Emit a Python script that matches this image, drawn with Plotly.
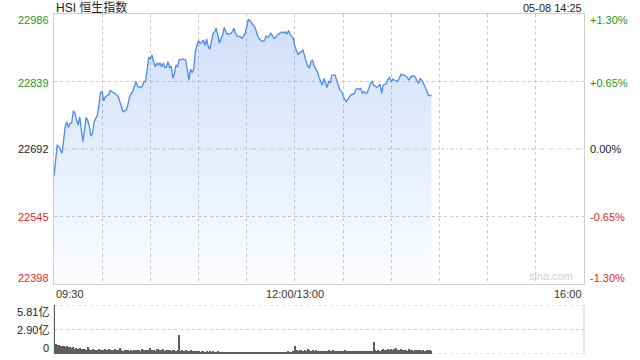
import plotly.graph_objects as go

# ---------------- data ----------------
title_text = "HSI 恒生指数"
stamp_text = "05-08 14:25"
prev_close = 22692
y_ticks = [22986, 22839, 22692, 22545, 22398]
pct_ticks = ["+1.30%", "+0.65%", "0.00%", "-0.65%", "-1.30%"]
x_tick_pos = [0, 150, 330]
x_tick_text = ["09:30", "12:00/13:00", "16:00"]
vol_ticks = [5.81, 2.90, 0]
vol_tick_text = ["5.81亿", "2.90亿", "0"]

# trading minutes since 09:30 (lunch break removed)
minutes = [0, 2, 3, 5, 6, 7, 8, 9, 10, 11, 12, 13, 14, 15, 16, 17, 18, 19, 20, 21,
           22, 23, 24, 25, 26, 27, 28, 29, 30, 31, 32, 34, 35, 37, 38, 40, 41, 42, 43, 45,
           46, 47, 49, 50, 51, 52, 54, 55, 56, 57, 58, 59, 60, 61, 62, 63, 64, 65, 66, 67,
           68, 69, 70, 71, 72, 73, 74, 75, 76, 77, 78, 79, 80, 82, 83, 84, 85, 86, 87, 88,
           89, 90, 91, 92, 93, 94, 95, 96, 97, 98, 99, 100, 101, 102, 103, 104, 105, 106, 107, 108,
           110, 111, 112, 113, 114, 116, 117, 118, 119, 120, 121, 122, 123, 124, 125, 126, 127, 128, 129, 130,
           131, 132, 133, 134, 135, 136, 137, 138, 139, 141, 142, 143, 144, 145, 146, 147, 148, 149, 150, 151,
           152, 153, 154, 155, 156, 157, 158, 159, 160, 161, 162, 163, 164, 165, 166, 167, 168, 169, 170, 171,
           172, 173, 174, 175, 176, 177, 178, 179, 180, 181, 182, 183, 184, 185, 186, 187, 188, 189, 190, 191,
           192, 193, 194, 195, 196, 197, 198, 199, 200, 201, 202, 203, 204, 205, 206, 207, 208, 209, 210, 211,
           212, 213, 214, 215, 216, 217, 218, 219, 220, 221, 222, 223, 224, 225, 226, 227, 228, 229, 230, 231,
           232, 233, 234, 235]
index_values = [22632, 22701, 22697, 22683, 22712, 22741, 22751, 22739, 22748, 22748, 22775, 22771, 22755, 22744, 22762, 22737, 22708, 22733, 22761, 22754,
                22742, 22720, 22726, 22751, 22759, 22766, 22788, 22815, 22817, 22797, 22806, 22810, 22819, 22815, 22813, 22806, 22792, 22784, 22773, 22777,
                22788, 22806, 22817, 22831, 22839, 22828, 22826, 22829, 22839, 22839, 22864, 22892, 22888, 22897, 22882, 22871, 22879, 22875, 22880, 22871,
                22879, 22870, 22870, 22882, 22868, 22873, 22846, 22857, 22875, 22871, 22887, 22886, 22888, 22886, 22864, 22842, 22866, 22858, 22866, 22904,
                22918, 22928, 22922, 22924, 22929, 22918, 22931, 22915, 22909, 22929, 22944, 22947, 22955, 22940, 22922, 22933, 22940, 22957, 22947, 22942,
                22944, 22947, 22955, 22944, 22938, 22937, 22933, 22938, 22944, 22958, 22974, 22972, 22966, 22962, 22958, 22945, 22937, 22931, 22928, 22926,
                22928, 22938, 22935, 22938, 22944, 22938, 22933, 22935, 22940, 22945, 22947, 22945, 22947, 22942, 22950, 22942, 22937, 22933, 22915, 22904,
                22897, 22902, 22904, 22908, 22893, 22882, 22873, 22868, 22882, 22886, 22873, 22866, 22860, 22849, 22839, 22831, 22846, 22836, 22826, 22839,
                22837, 22853, 22853, 22853, 22842, 22831, 22820, 22817, 22806, 22800, 22795, 22802, 22806, 22810, 22811, 22813, 22822, 22824, 22822, 22824,
                22813, 22817, 22813, 22815, 22824, 22835, 22839, 22831, 22829, 22826, 22829, 22833, 22813, 22831, 22833, 22835, 22844, 22848, 22839, 22844,
                22842, 22841, 22839, 22846, 22855, 22853, 22853, 22851, 22848, 22842, 22849, 22851, 22851, 22848, 22842, 22835, 22846, 22842, 22835, 22828,
                22820, 22810, 22808, 22809]

# per-minute turnover, in 亿
volumes = [5.81, 1.19, 1.10, 1.02, 0.95, 0.98, 0.90, 0.85, 0.92, 0.80,
           0.78, 0.70, 0.86, 0.65, 0.72, 0.60, 0.68, 0.55, 0.62, 0.58,
           0.50, 0.85, 0.55, 0.48, 0.62, 0.52, 0.45, 0.50, 0.58, 0.47,
           0.52, 0.44, 0.60, 0.48, 0.55, 0.42, 0.50, 0.46, 0.58, 0.44,
           0.52, 0.75, 0.48, 0.40, 0.46, 0.42, 0.50, 0.38, 0.44, 0.40,
           0.46, 0.42, 0.52, 0.48, 0.40, 0.55, 0.45, 0.50, 0.42, 0.48,
           0.75, 0.44, 0.52, 0.40, 0.58, 0.65, 0.46, 0.42, 0.55, 0.40,
           0.48, 0.44, 0.50, 0.38, 0.46, 0.42, 0.40, 0.45, 2.27, 0.40,
           0.48, 0.36, 0.44, 0.40, 0.34, 0.42, 0.38, 0.32, 0.36, 0.30,
           0.34, 0.28, 0.32, 0.36, 0.26, 0.30, 0.28, 0.32, 0.25, 0.30,
           0.27, 0.24, 0.30, 0.26, 0.22, 0.28, 0.25, 0.23, 0.27, 0.22,
           0.25, 0.20, 0.24, 0.22, 0.26, 0.21, 0.23, 0.20, 0.24, 0.22,
           0.26, 0.20, 0.23, 0.19, 0.22, 0.25, 0.20, 0.18, 0.22, 0.20,
           0.19, 0.23, 0.18, 0.21, 0.17, 0.20, 0.22, 0.18, 0.26, 0.20,
           0.22, 0.19, 0.24, 0.28, 0.21, 0.25, 0.30, 0.22, 0.28, 0.35,
           0.95, 0.45, 0.38, 0.50, 0.42, 0.36, 0.48, 0.40, 0.55, 0.44,
           0.38, 0.46, 0.35, 0.42, 0.30, 0.36, 0.40, 0.33, 0.38, 0.30,
           0.35, 0.42, 0.32, 0.38, 0.45, 0.34, 0.30, 0.36, 0.40, 0.33,
           0.38, 0.44, 0.35, 0.30, 0.36, 0.32, 0.38, 0.34, 0.30, 0.36,
           0.40, 0.33, 0.38, 0.30, 0.35, 0.32, 0.37, 0.34, 0.40, 1.47,
           0.45, 0.38, 0.52, 0.40, 0.48, 0.55, 0.42, 0.50, 0.58, 0.45,
           0.62, 0.48, 0.55, 0.75, 0.50, 0.46, 0.58, 0.44, 0.52, 0.48,
           0.40, 0.55, 0.45, 0.50, 0.38, 0.46, 0.52, 0.42, 0.48, 0.40,
           0.45, 0.38, 0.50, 0.42, 0.46, 0.40]
vol_minutes = list(range(len(volumes)))

# ---------------- styling ----------------
FONT = "Liberation Sans, Arial, Noto Sans CJK SC, sans-serif"
GREEN = "#1a9a1a"
RED = "#ee2424"
BLACK = "#222222"
GRID = "#c9c9c9"
BORDER = "#cfcfcf"

W, H = 640, 360
ML, MR, MT, MB = 54, 56, 14, 6
ph = H - MT - MB
main_dom = [(354 - 284) / ph, 1.0]
vol_dom = [0.0, (354 - 305) / ph]

fig = go.Figure()

fig.add_trace(go.Scatter(
    x=minutes, y=index_values, mode="lines",
    line=dict(color="#4f8bea", width=1.3),
    fill="tozeroy",
    fillgradient=dict(type="vertical", start=y_ticks[-1], stop=y_ticks[0],
                      colorscale=[[0, "rgba(60,125,235,0.02)"], [1, "rgba(60,125,235,0.25)"]]),
    xaxis="x", yaxis="y", hoverinfo="skip", showlegend=False,
))

fig.add_trace(go.Bar(
    x=vol_minutes, y=volumes, width=0.62,
    marker=dict(color="#5e5e5e", line=dict(width=0)),
    xaxis="x2", yaxis="y2", hoverinfo="skip", showlegend=False,
))

fig.update_layout(
    width=W, height=H,
    margin=dict(l=ML, r=MR, t=MT, b=MB),
    paper_bgcolor="white", plot_bgcolor="white",
    font=dict(family=FONT, size=11, color=BLACK),
    bargap=0,
    xaxis=dict(domain=[0, 1], range=[0, 330], anchor="y",
               tickvals=list(range(0, 331, 30)), showticklabels=False, ticks="",
               showgrid=True, gridcolor=GRID, griddash="dot", gridwidth=1,
               showline=True, linecolor=BORDER, linewidth=1, mirror=True, zeroline=False),
    yaxis=dict(domain=main_dom, range=[y_ticks[-1], y_ticks[0]], anchor="x",
               tickvals=[y_ticks[1], y_ticks[3]], showticklabels=False, ticks="",
               showgrid=True, gridcolor=GRID, griddash="dot", gridwidth=1,
               showline=True, linecolor=BORDER, linewidth=1, mirror=True, zeroline=False),
    xaxis2=dict(domain=[0, 1], range=[0, 330], anchor="y2",
                showticklabels=False, ticks="", showgrid=False, showline=False, zeroline=False),
    yaxis2=dict(domain=vol_dom, range=[0, vol_ticks[0]], anchor="x2",
                showticklabels=False, ticks="", showgrid=False, showline=False, zeroline=False),
)

shapes = []
# prev-close line (dash-dot)
shapes.append(dict(type="line", xref="x domain", yref="y", x0=0, x1=1, y0=prev_close, y1=prev_close,
                   line=dict(color=GRID, width=1, dash="4px,2px,1px,2px"), layer="below"))
# volume panel frame
for v in vol_ticks:
    shapes.append(dict(type="line", xref="x2 domain", yref="y2", x0=0, x1=1, y0=v, y1=v,
                       line=dict(color=GRID, width=1, dash="dot"), layer="below"))
for xv in (0, 1):
    shapes.append(dict(type="line", xref="x2 domain", yref="y2 domain", x0=xv, x1=xv, y0=0, y1=1,
                       line=dict(color=BORDER, width=1), layer="below"))
fig.update_layout(shapes=shapes)

ann = []
ycolors = [GREEN, GREEN, BLACK, RED, RED]
yshifts = [-6, -1, 0, 0, 6]
for v, p, c, s in zip(y_ticks, pct_ticks, ycolors, yshifts):
    ann.append(dict(xref="x domain", yref="y", x=0, y=v, text=str(v), showarrow=False,
                    xanchor="right", yanchor="middle", xshift=-3, yshift=s,
                    font=dict(color=c, size=11)))
    ann.append(dict(xref="x domain", yref="y", x=1, y=v, text=p, showarrow=False,
                    xanchor="left", yanchor="middle", xshift=4, yshift=s,
                    font=dict(color=c, size=11)))
# time labels
xanchors = ["left", "center", "right"]
for xv, t, xa in zip(x_tick_pos, x_tick_text, xanchors):
    ann.append(dict(xref="x", yref="y domain", x=xv, y=0, text=t, showarrow=False,
                    xanchor=xa, yanchor="top", yshift=-2, font=dict(color="#333333", size=11)))
# volume labels
vshifts = [-7, 0, 6]
for v, t, s in zip(vol_ticks, vol_tick_text, vshifts):
    ann.append(dict(xref="x2 domain", yref="y2", x=0, y=v, text=t, showarrow=False,
                    xanchor="right", yanchor="middle", xshift=-3, yshift=s,
                    font=dict(color=BLACK, size=11)))
# title and timestamp
ann.append(dict(xref="x domain", yref="paper", x=0, y=1, text=title_text, showarrow=False,
                xanchor="left", yanchor="bottom", yshift=-3, font=dict(color=BLACK, size=12)))
ann.append(dict(xref="x domain", yref="paper", x=1, y=1, text=stamp_text, showarrow=False,
                xanchor="right", yanchor="bottom", yshift=-2, font=dict(color=BLACK, size=11)))
# watermark
ann.append(dict(xref="x domain", yref="y domain", x=1, y=0, text="sina.com", showarrow=False,
                xanchor="right", yanchor="bottom", xshift=-9, yshift=0,
                font=dict(color="#cfcfcf", size=11)))
fig.update_layout(annotations=ann)

fig.write_html("out.html")
